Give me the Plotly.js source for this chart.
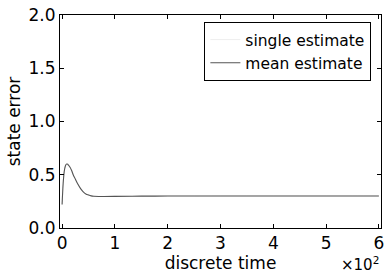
<!DOCTYPE html>
<html><head><meta charset="utf-8">
<script src="https://cdn.plot.ly/plotly-3.0.1.min.js"></script>
<style>html,body{margin:0;padding:0;background:#fff}</style>
</head><body>
<div id="chart" style="width:391px;height:277px"></div>
<script>
const time = [0,2,4,6,8,10,12,15,18,21,25,30,35,40,45,50,55,60,70,80,100,150,200,250,300,350,400,450,500,550,600];
const meanError = [0.22,0.42,0.53,0.58,0.60,0.60,0.59,0.57,0.54,0.50,0.46,0.41,0.37,0.34,0.32,0.31,0.302,0.298,0.296,0.296,0.297,0.299,0.300,0.300,0.301,0.301,0.301,0.301,0.301,0.301,0.301];
const singleError = meanError.slice();
const xTickVals = [0,100,200,300,400,500,600];
const xTickText = ['0','1','2','3','4','5','6'];
const yTickVals = [0,0.5,1.0,1.5,2.0];
const yTickText = ['0.0','0.5','1.0','1.5','2.0'];

const font = {family:'DejaVu Sans, sans-serif', color:'#000'};
const traces = [
  {x:time, y:singleError, mode:'lines', name:'single estimate', line:{color:'#eeeeee', width:1, shape:'spline'}},
  {x:time, y:meanError, mode:'lines', name:'mean estimate', line:{color:'#555555', width:1.1, shape:'spline'}}
];
const axisCommon = {showgrid:false, zeroline:false, showline:true, linecolor:'#000', linewidth:1, mirror:'ticks', ticks:'inside', ticklen:4, tickcolor:'#000', tickfont:Object.assign({size:17}, font)};
const layout = {
  width:391, height:277,
  margin:{l:60, r:10, t:15, b:49},
  paper_bgcolor:'#fff', plot_bgcolor:'#fff',
  font:font,
  showlegend:true,
  legend:{x:0.97, y:0.967, xanchor:'right', yanchor:'top', bordercolor:'#000', borderwidth:1, bgcolor:'#fff', font:Object.assign({size:15.5}, font), tracegroupgap:0},
  xaxis:Object.assign({range:[-4,604], tickvals:xTickVals, ticktext:xTickText, title:{text:'discrete time', font:Object.assign({size:17}, font), standoff:4}}, axisCommon),
  yaxis:Object.assign({range:[0,2], tickvals:yTickVals, ticktext:yTickText, title:{text:'state error', font:Object.assign({size:17}, font), standoff:3}}, axisCommon),
  annotations:[{xref:'paper', yref:'paper', x:1.0, y:-0.112, xanchor:'right', yanchor:'top', showarrow:false, text:'×10<sup>2</sup>', font:Object.assign({size:15}, font)}]
};
Plotly.newPlot('chart', traces, layout, {staticPlot:true, displayModeBar:false});
</script>
</body></html>
